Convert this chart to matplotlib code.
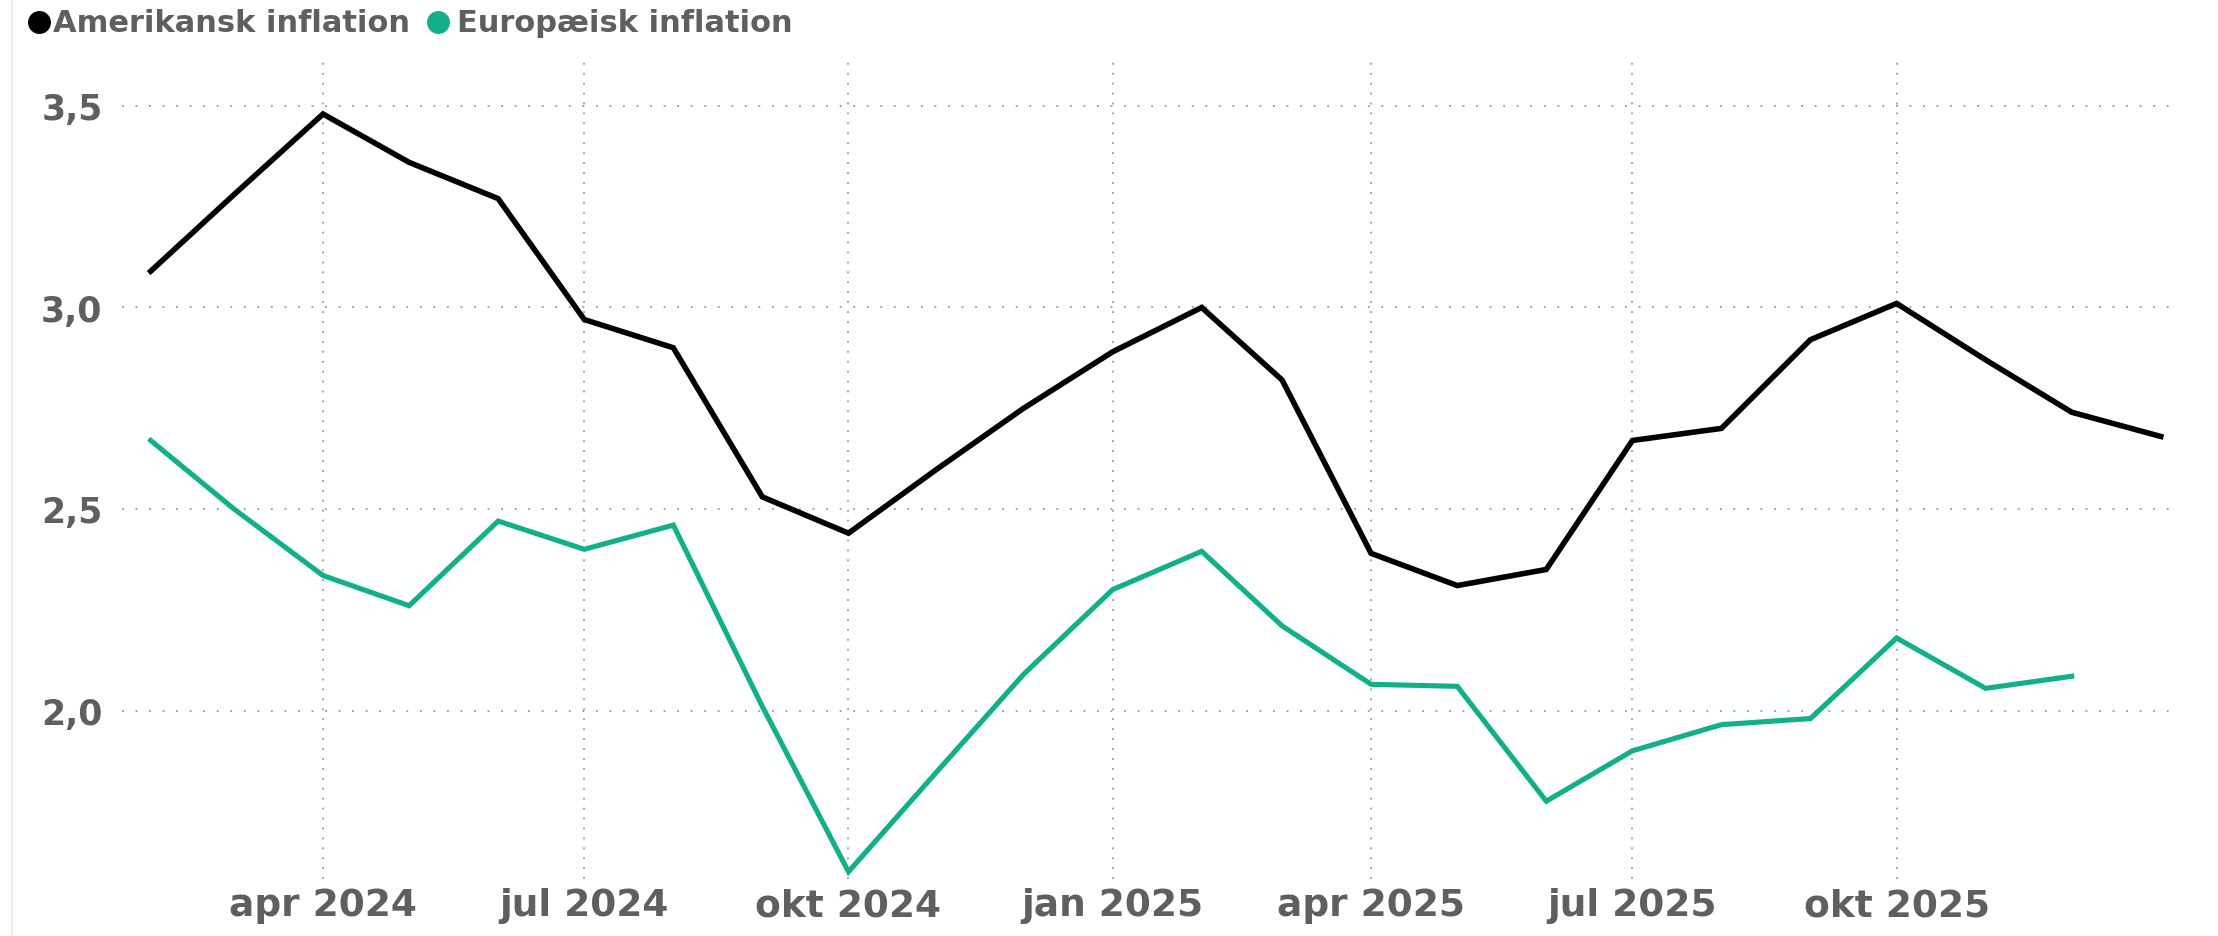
import matplotlib
matplotlib.use("Agg")
import matplotlib.pyplot as plt
import matplotlib.dates as mdates
from matplotlib.lines import Line2D
import pandas as pd

# monthly observations
months_us = ['2024-02', '2024-03', '2024-04', '2024-05', '2024-06', '2024-07', '2024-08', '2024-09',
             '2024-10', '2024-11', '2024-12', '2025-01', '2025-02', '2025-03', '2025-04', '2025-05',
             '2025-06', '2025-07', '2025-08', '2025-09', '2025-10', '2025-11', '2025-12', '2026-01']
us_inflation = [3.09, 3.28, 3.48, 3.36, 3.27, 2.97, 2.90, 2.53, 2.44, 2.60, 2.75, 2.89,
                3.00, 2.82, 2.39, 2.31, 2.35, 2.67, 2.70, 2.92, 3.01, 2.87, 2.74, 2.68]

months_eu = months_us[:-1]
eu_inflation = [2.67, 2.50, 2.335, 2.26, 2.47, 2.40, 2.46, 2.01, 1.60, 1.85, 2.09, 2.30,
                2.395, 2.21, 2.065, 2.06, 1.775, 1.90, 1.965, 1.98, 2.18, 2.055, 2.085]

tick_dates = ['2024-04', '2024-07', '2024-10', '2025-01', '2025-04', '2025-07', '2025-10']
tick_labels = ['apr 2024', 'jul 2024', 'okt 2024', 'jan 2025', 'apr 2025', 'jul 2025', 'okt 2025']
y_ticks = [2.0, 2.5, 3.0, 3.5]

series_names = ['Amerikansk inflation', 'Europæisk inflation']
BLACK = '#000000'
GREEN = '#12b088'
TEXT = '#5f5f5f'

W, H = 2218, 937
fig = plt.figure(figsize=(W / 100, H / 100), dpi=100)
fig.patch.set_facecolor('white')

left, right, top, bottom = 122, 2178, 63, 880
ax = fig.add_axes([left / W, 1 - bottom / H, (right - left) / W, (bottom - top) / H])

x_us = pd.to_datetime(months_us)
x_eu = pd.to_datetime(months_eu)
ax.plot(x_us, us_inflation, color=BLACK, lw=4.0, solid_joinstyle='miter', zorder=3)
ax.plot(x_eu, eu_inflation, color=GREEN, lw=3.7, solid_joinstyle='miter', zorder=3)

ax.set_xlim(pd.Timestamp('2024-01-22'), pd.Timestamp('2026-01-07'))
ax.set_ylim(1.582, 3.609)

ax.set_xticks(mdates.date2num(pd.to_datetime(tick_dates)))
ax.set_xticklabels(tick_labels)
ax.set_yticks(y_ticks)
ax.set_yticklabels([f'{v:.1f}'.replace('.', ',') for v in y_ticks])

for lab in ax.get_xticklabels():
    lab.set_fontsize(27)
    lab.set_fontweight('bold')
    lab.set_color(TEXT)
for lab in ax.get_yticklabels():
    lab.set_fontsize(25)
    lab.set_fontweight('bold')
    lab.set_color(TEXT)

ax.tick_params(axis='x', length=0, pad=6)
ax.tick_params(axis='y', length=0, pad=14)
for s in ax.spines.values():
    s.set_visible(False)

ax.grid(axis='y', color='#9a9a9a', lw=1.3, linestyle=(0, (1, 6.5)))
ax.grid(axis='x', color='#9a9a9a', lw=1.3, linestyle=(0, (1, 4.5)))
ax.set_axisbelow(True)

# legend at the top
ly = 1 - 23 / H
fig.add_artist(Line2D([39 / W], [ly], marker='o', markersize=15.5, color=BLACK, lw=0,
                      transform=fig.transFigure))
fig.text(53 / W, ly, series_names[0], fontsize=22, fontweight='bold', color=TEXT, va='center')
fig.add_artist(Line2D([438 / W], [ly], marker='o', markersize=15.5, color=GREEN, lw=0,
                      transform=fig.transFigure))
fig.text(457 / W, ly, series_names[1], fontsize=22, fontweight='bold', color=TEXT, va='center')

# faint left border
fig.add_artist(Line2D([12 / W, 12 / W], [0, 1], color='#ebebeb', lw=1.5, transform=fig.transFigure))

fig.savefig('out.png', dpi=100, facecolor='white')
